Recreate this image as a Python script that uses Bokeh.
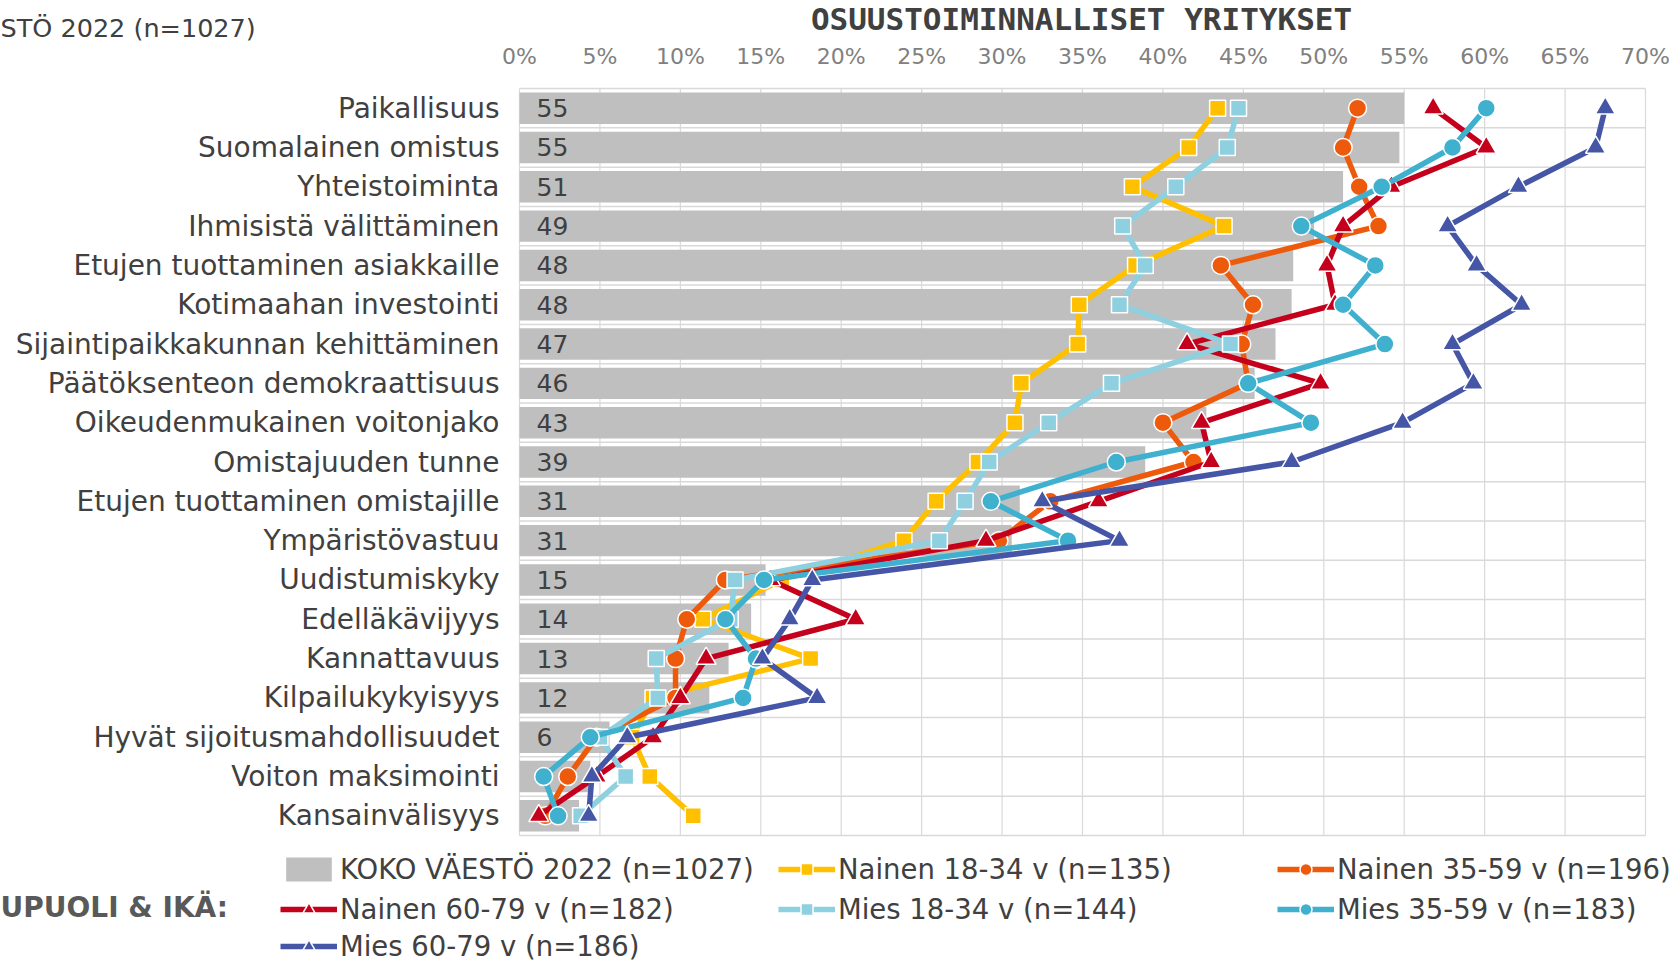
from bokeh.plotting import figure
from bokeh.models import Range1d, Label, Legend, LegendItem, ColumnDataSource
from bokeh.embed import file_html
from bokeh.resources import INLINE
from bokeh.core.properties import value

# ---------------- data ----------------
categories = [
    "Paikallisuus", "Suomalainen omistus", "Yhteistoiminta", "Ihmisistä välittäminen",
    "Etujen tuottaminen asiakkaille", "Kotimaahan investointi",
    "Sijaintipaikkakunnan kehittäminen", "Päätöksenteon demokraattisuus",
    "Oikeudenmukainen voitonjako", "Omistajuuden tunne", "Etujen tuottaminen omistajille",
    "Ympäristövastuu", "Uudistumiskyky", "Edelläkävijyys", "Kannattavuus",
    "Kilpailukykyisyys", "Hyvät sijoitusmahdollisuudet", "Voiton maksimointi",
    "Kansainvälisyys",
]
koko = [55.0, 54.7, 51.2, 49.4, 48.1, 48.0, 47.0, 45.7, 42.7, 38.9, 31.1, 30.6,
        15.3, 14.4, 13.0, 11.8, 5.6, 4.4, 3.7]
nainen_18_34 = [43.4, 41.6, 38.1, 43.8, 38.3, 34.8, 34.7, 31.2, 30.8, 28.5, 25.9, 23.9,
                16.3, 11.4, 18.1, 8.3, 7.0, 8.1, 10.8]
nainen_35_59 = [52.1, 51.2, 52.2, 53.4, 43.6, 45.6, 44.9, 45.3, 40.0, 41.9, 33.0, 29.8,
                12.8, 10.4, 9.7, 9.7, 4.8, 3.0, 1.6]
nainen_60_79 = [56.8, 60.1, 54.2, 51.2, 50.2, 50.7, 41.5, 49.8, 42.4, 43.0, 36.0, 29.0,
                15.6, 20.9, 11.6, 10.0, 8.3, 4.8, 1.2]
mies_18_34 = [44.7, 44.0, 40.8, 37.5, 38.9, 37.3, 44.2, 36.8, 32.9, 29.2, 27.7, 26.1,
              13.4, 13.1, 8.5, 8.6, 5.0, 6.6, 3.8]
mies_35_59 = [60.1, 58.0, 53.6, 48.6, 53.2, 51.2, 53.8, 45.3, 49.2, 37.1, 29.3, 34.1,
              15.2, 12.8, 14.7, 13.9, 4.4, 1.5, 2.4]
mies_60_79 = [67.5, 66.9, 62.1, 57.7, 59.5, 62.3, 58.0, 59.3, 54.9, 48.0, 32.5, 37.3,
              18.2, 16.8, 15.1, 18.5, 6.7, 4.5, 4.3]
x_ticks = list(range(0, 71, 5))
x_tick_labels = ["0%", "5%", "10%", "15%", "20%", "25%", "30%", "35%", "40%", "45%",
                 "50%", "55%", "60%", "65%", "70%"]
series_names = ["KOKO VÄESTÖ 2022 (n=1027)", "Nainen 18-34 v (n=135)", "Nainen 35-59 v (n=196)",
                "Nainen 60-79 v (n=182)", "Mies 18-34 v (n=144)", "Mies 35-59 v (n=183)",
                "Mies 60-79 v (n=186)"]
title_text = "OSUUSTOIMINNALLISET YRITYKSET"
corner_text = "STÖ 2022 (n=1027)"
group_text = "UPUOLI & IKÄ:"

# ---------------- layout (pixels) ----------------
W, H = 1676, 962
PL, PR = 519, 1645        # chart area left/right
PT, PB = 88, 835          # chart area top/bottom
XMAX = 70.0
FONT = "DejaVu Sans"
TXT = "#404040"
GRID = "#d9d9d9"

n = len(categories)
ys = list(range(n))
sx = (PR - PL) / XMAX               # px per percent
sy = (PB - PT) / n                  # px per row

x_range = Range1d(-PL / sx, (W - PL) / sx)
y_range = Range1d((H - PT) / sy - 0.5, -PT / sy - 0.5)   # reversed: first row on top

p = figure(width=W, height=H, output_backend="svg", toolbar_location=None,
           x_range=x_range, y_range=y_range,
           x_axis_location=None, y_axis_location=None,
           min_border=0, outline_line_color=None)
p.grid.visible = False

# grid (chart area only)
bounds = [i - 0.5 for i in range(n + 1)]
p.segment(x0=x_ticks, y0=-0.5, x1=x_ticks, y1=n - 0.5, line_color=GRID, line_width=1.2)
p.segment(x0=0, y0=bounds, x1=XMAX, y1=bounds, line_color=GRID, line_width=1.5)

# x tick labels (above chart area)
p.text(x=x_ticks, y=-0.5, text=x_tick_labels, y_offset=-(PT - 56), text_align="center",
       text_baseline="middle", text_font=value(FONT), text_font_size="22px",
       text_color="#808080")
# category labels
p.text(x=0, y=ys, text=categories, x_offset=-20, text_align="right",
       text_baseline="middle", text_font=value(FONT), text_font_size="28px",
       text_color=TXT)

# bars
bar_src = ColumnDataSource(dict(y=ys, v=koko, lbl=[str(int(v + 0.5)) for v in koko]))
bar_r = p.hbar(y="y", right="v", left=0, height=0.8, fill_color="#bfbfbf",
               line_color=None, source=bar_src)
p.text(x=0, y="y", text="lbl", x_offset=17, text_align="left", text_baseline="middle",
       text_font=value(FONT), text_font_size="25px", text_color=TXT, source=bar_src)

# lines + markers
series = [
    (nainen_18_34, "#ffc000", "square", 16),
    (nainen_35_59, "#ee5a0c", "circle", 18),
    (nainen_60_79, "#c5001c", "triangle", 20),
    (mies_18_34, "#8ed0e0", "square", 16),
    (mies_35_59, "#3fb1cf", "circle", 18),
    (mies_60_79, "#4656a7", "triangle", 20),
]
swatches = [[bar_r]]
for vals, col, mk, sz in series:
    lr = p.line(x=vals, y=ys, line_color=col, line_width=5.5, line_join="round")
    sr = p.scatter(x=vals, y=ys, marker=mk, size=sz, fill_color=col,
                   line_color="white", line_width=1.5)
    swatches.append([lr, sr])

# legends: 3 columns x 3 rows (row-major)
col_x = [280, 778, 1277]
row_y = [H - 885, H - 925, H - 962]   # lower-left corner, measured from the bottom
for i, (name, rs) in enumerate(zip(series_names, swatches)):
    r, c = divmod(i, 3)
    lg = Legend(items=[LegendItem(label=name, renderers=rs)],
                location=(col_x[c], row_y[r]), orientation="horizontal",
                border_line_color=None, background_fill_alpha=0,
                padding=0, margin=0, spacing=0,
                glyph_width=57, glyph_height=30, label_standoff=3,
                label_text_font=FONT, label_text_font_size="27.5px",
                label_text_color=TXT, label_height=30)
    p.add_layout(lg, "center")

# texts
p.add_layout(Label(x=1081, y=H - 18, x_units="screen", y_units="screen",
                   text=title_text, text_align="center", text_baseline="middle",
                   text_font="DejaVu Sans Mono", text_font_style="bold",
                   text_font_size="31px", text_color=TXT))
p.add_layout(Label(x=0, y=H - 27, x_units="screen", y_units="screen",
                   text=corner_text, text_align="left", text_baseline="middle",
                   text_font=FONT, text_font_size="25.5px", text_color=TXT))
p.add_layout(Label(x=0, y=H - 907, x_units="screen", y_units="screen",
                   text=group_text, text_align="left", text_baseline="middle",
                   text_font=FONT, text_font_style="bold",
                   text_font_size="28px", text_color="#595959"))

open("out.html", "w").write(file_html(p, INLINE))
